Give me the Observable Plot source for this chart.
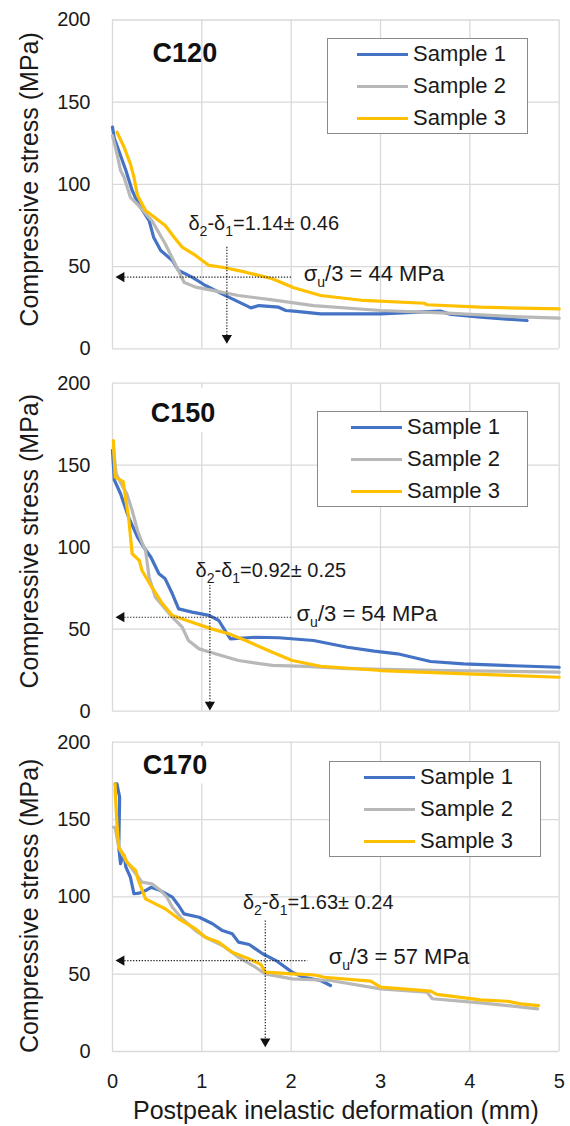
<!DOCTYPE html>
<html>
<head>
<meta charset="utf-8">
<script src="https://cdn.jsdelivr.net/npm/d3@7"></script>
<script src="https://cdn.jsdelivr.net/npm/@observablehq/plot@0.6"></script>
<style>
  body { margin: 0; background: #fff; }
  #chart { position: relative; width: 570px; height: 1126px; font-family: "Liberation Sans", Arial, sans-serif; color: #1a1a1a; }
  #chart > svg { position: absolute; left: 0; display: block; }
  .legend { position: absolute; border: 1.5px solid #8a8a8a; background: #fff; box-sizing: border-box; }
  .legend .row { position: absolute; left: 0; height: 28px; display: flex; align-items: center; font-size: 22px; white-space: nowrap; }
  .legend .sw { display: inline-block; width: 51px; height: 3px; margin-right: 5px; }
</style>
</head>
<body>
<div id="chart"></div>
<script>
// ---------------- data ----------------
const sampleNames = ["Sample 1", "Sample 2", "Sample 3"];
const sampleColors = ["#4472c4", "#b8b8b8", "#ffc000"];
const xTicks = [0, 1, 2, 3, 4, 5];
const yTicks = [0, 50, 100, 150, 200];
const specimenNames = ["C120", "C150", "C170"];

// C120: [deformation mm, stress MPa]
const c120S1 = [[0,134.8],[0.02,128],[0.07,120.6],[0.15,108.5],[0.22,96.3],[0.29,88.2],[0.41,78],[0.46,67.9],[0.54,59.8],[0.67,53.7],[0.74,47.6],[0.89,43.6],[1.04,38.5],[1.30,31.4],[1.55,24.9],[1.64,26.3],[1.86,25.3],[1.94,23.3],[2.03,22.9],[2.33,21.3],[3.0,21.3],[3.67,22.9],[3.79,20.9],[4.12,19.2],[4.64,17.2]];
const c120S2 = [[0,129.7],[0.05,118.6],[0.09,108.5],[0.13,104.4],[0.20,92.2],[0.29,87.2],[0.44,78],[0.59,63.9],[0.72,49.6],[0.80,40.5],[0.93,37.5],[1.12,35.5],[1.41,32.4],[1.79,29.8],[2.25,26.3],[3.0,23.3],[3.75,21.7],[4.49,19.6],[5.0,18.6]];
const c120S3 = [[0.05,131.8],[0.13,122.6],[0.20,112.5],[0.24,104.4],[0.28,93.2],[0.37,84.1],[0.59,75],[0.69,67.9],[0.78,61.8],[0.93,56.8],[1.08,50.7],[1.23,49.6],[1.49,46.6],[1.79,42.6],[2.03,37.1],[2.33,32.4],[2.81,29.4],[3.49,27.7],[3.52,26.8],[4.12,25.3],[5.0,24.3]];

// C150
const c150S1 = [[0,159],[0.02,141],[0.09,132.6],[0.18,118.3],[0.28,106.1],[0.35,100],[0.43,93.9],[0.52,83.8],[0.59,80.7],[0.67,71.6],[0.74,62.4],[0.89,60.4],[1.08,58.4],[1.19,55.3],[1.27,48.2],[1.32,44.1],[1.60,45.1],[1.86,44.8],[2.25,43.1],[2.63,39],[2.93,36.6],[3.19,35],[3.56,30.3],[3.93,28.9],[4.49,27.7],[5.0,26.8]];
const c150S2 = [[0.01,161],[0.04,145],[0.09,139.4],[0.16,132.6],[0.22,122.4],[0.28,110.2],[0.33,103],[0.37,98],[0.41,81.7],[0.48,69.5],[0.67,57.3],[0.78,51.2],[0.85,43.1],[0.97,38],[1.15,35],[1.41,30.9],[1.79,27.9],[2.16,27.3],[2.63,25.9],[3.75,24.8],[5.0,23.8]];
const c150S3 = [[0.01,165],[0.03,142.7],[0.12,140],[0.15,128.5],[0.18,118.3],[0.22,96],[0.30,91.9],[0.33,85.8],[0.44,75.6],[0.56,65.5],[0.67,58.4],[0.89,54.3],[1.11,50.2],[1.30,47.2],[1.49,43.1],[1.79,36],[2.01,30.9],[2.33,27.4],[3.0,24.8],[3.97,22.8],[5.0,20.7]];

// C170
const c170S1 = [[0.03,173],[0.05,173],[0.08,164.4],[0.07,132],[0.09,121.4],[0.11,125.6],[0.13,126.7],[0.15,119.2],[0.20,112.7],[0.24,102],[0.30,102.4],[0.37,104.1],[0.43,106.2],[0.52,104.5],[0.67,99.8],[0.74,94.4],[0.80,89],[0.97,86.8],[1.12,82.6],[1.23,78.2],[1.34,76.1],[1.41,70.7],[1.53,69.2],[1.68,63.2],[1.83,58.8],[2.01,51.3],[2.14,48],[2.33,45.9],[2.44,42.7]];
const c170S2 = [[0.01,145],[0.03,145],[0.07,132],[0.15,123.5],[0.26,114.9],[0.33,109.5],[0.44,108.4],[0.54,104.1],[0.61,99.8],[0.67,93.3],[0.78,85.8],[0.93,78.2],[1.04,73.9],[1.23,68.5],[1.41,61],[1.60,54.5],[1.71,50.2],[2.01,47],[2.44,45.9],[3.0,40.5],[3.52,38.3],[3.58,34.1],[4.12,31.5],[4.76,27.6]];
const c170S3 = [[0.03,173],[0.03,168.8],[0.05,147.2],[0.07,132],[0.13,126.7],[0.16,122.4],[0.26,117],[0.29,110.6],[0.37,98.7],[0.48,95.5],[0.59,92.3],[0.74,85.8],[0.93,79.3],[1.04,73.9],[1.19,70.7],[1.34,64.2],[1.53,59.9],[1.66,56.3],[1.71,51.3],[2.01,50.2],[2.25,49.6],[2.37,48],[2.89,45.5],[3.0,41.6],[3.56,39],[3.63,36.9],[4.12,33.4],[4.42,32.5],[4.57,30.8],[4.77,29.7]];

// annotations
const sigmaThird = [44, 54, 57];          // label values (MPa)
const sigmaArrowY = [43.6, 57.3, 58.8];   // level of drawn horizontal arrow
const sigmaArrowX2 = [2.0, 2.0, 2.18];    // right end of horizontal arrow
const deltaMean = ["1.14", "0.92", "1.63"];
const deltaSD = ["0.46", "0.25", "0.24"];
const deltaArrowX = [1.28, 1.09, 1.71];
const deltaArrowTop = [62, 77, 84.7];

const seriesBySpecimen = [[c120S1, c120S2, c120S3], [c150S1, c150S2, c150S3], [c170S1, c170S2, c170S3]];

// ---------------- layout ----------------
const layout = [
  { top: 0,   height: 362, mt: 19.5, mb: 13.7, title: [0.81, 179.6], delta: [0.85, 76],  sigma: [2.14, 45.8], headX: 0.1, headY: 6.6, ylabDy: -5,
    legend: { left: 327, top: 38, width: 201, pad: 29 }, mask: null },
  { top: 362, height: 360, mt: 20.7, mb: 11.3, title: [0.79, 181.5], delta: [0.93, 85.8], sigma: [2.06, 59.2], headX: 0.1, headY: 4, ylabDy: -6,
    legend: { left: 317, top: 411, width: 211, pad: 33 }, mask: [0.35, 1.3, 170, 197] },
  { top: 722, height: 404, mt: 19.7, mb: 75,   title: [0.70, 185],   delta: [1.46, 96.5], sigma: [2.42, 61],   headX: 0.1, headY: 6.5, ylabDy: 9,
    legend: { left: 329, top: 761, width: 212, pad: 34 }, mask: [0.3, 1.3, 173, 197] }
];

const FONT = "Liberation Sans, Arial, sans-serif";
const chart = document.getElementById("chart");

function subscriptify(svg, size) {
  svg.querySelectorAll("text").forEach(t => {
    const s = t.textContent;
    if (!s.includes("_")) return;
    const parts = s.split(/_(.)/);
    let html = "";
    const shift = Math.round(size * 0.3);
    for (let i = 0; i < parts.length; i++) {
      if (i % 2 === 0) {
        if (parts[i]) html += `<tspan dy="${i === 0 ? 0 : -shift}">${parts[i]}</tspan>`;
      } else {
        html += `<tspan dy="${shift}" font-size="${Math.round(size * 0.68)}px">${parts[i]}</tspan>`;
      }
    }
    t.innerHTML = html;
  });
}

specimenNames.forEach((name, k) => {
  const L = layout[k];
  const rows = seriesBySpecimen[k].flatMap((s, i) => s.map(([x, y]) => ({ x, y, sample: sampleNames[i] })));
  const last = k === specimenNames.length - 1;
  const dotted = { stroke: "#222", strokeWidth: 1.2, strokeDasharray: "1.3,1.6" };
  const marks = [
    Plot.gridX(xTicks, { stroke: "#d9d9d9", strokeOpacity: 1, strokeWidth: 1.3 }),
    Plot.gridY(yTicks, { stroke: "#d9d9d9", strokeOpacity: 1, strokeWidth: 1.3 }),
    L.mask ? Plot.rect([L.mask], { x1: d => d[0], x2: d => d[1], y1: d => d[2], y2: d => d[3], fill: "white" }) : null,
    Plot.axisY(yTicks, { tickSize: 0, tickPadding: 22, label: null, fontSize: 20 }),
    last ? Plot.axisX(xTicks, { tickSize: 0, tickPadding: 22, label: null, fontSize: 20 }) : null,
    Plot.text(["Compressive stress (MPa)"], { frameAnchor: "left", textAnchor: "middle", lineAnchor: "middle", rotate: -90, dx: -83, dy: L.ylabDy, fontSize: 25 }),
    last ? Plot.text(["Postpeak inelastic deformation (mm)"], { frameAnchor: "bottom", textAnchor: "middle", lineAnchor: "middle", dy: 59, fontSize: 25 }) : null,
    Plot.line(rows, { x: "x", y: "y", z: "sample", stroke: "sample", strokeWidth: 3.2, strokeLinejoin: "round", strokeLinecap: "round" }),
    // sigma_u/3 horizontal arrow
    Plot.link([0], { x1: () => L.headX, x2: () => sigmaArrowX2[k], y1: () => sigmaArrowY[k], y2: () => sigmaArrowY[k], ...dotted }),
    Plot.dot([0], { x: () => L.headX, y: () => sigmaArrowY[k], symbol: "triangle", r: 3.8, rotate: -90, fill: "#111", stroke: null }),
    // delta vertical arrow
    Plot.link([0], { x1: () => deltaArrowX[k], x2: () => deltaArrowX[k], y1: () => deltaArrowTop[k], y2: () => L.headY, ...dotted }),
    Plot.dot([0], { x: () => deltaArrowX[k], y: () => L.headY, symbol: "triangle", r: 3.8, rotate: 180, fill: "#111", stroke: null }),
    // labels
    Plot.text([`δ_2-δ_1=${deltaMean[k]}± ${deltaSD[k]}`], { x: () => L.delta[0], y: () => L.delta[1], textAnchor: "start", fontSize: 20, fill: "#1a1a1a" }),
    Plot.text([`σ_u/3 = ${sigmaThird[k]} MPa`], { x: () => L.sigma[0], y: () => L.sigma[1], textAnchor: "start", fontSize: 22, fill: "#1a1a1a" }),
    Plot.text([name], { x: () => L.title[0], y: () => L.title[1], fontSize: 27, fontWeight: "bold", fill: "#111" })
  ];
  const svg = Plot.plot({
    width: 570,
    height: L.height,
    marginLeft: 112,
    marginRight: 11.3,
    marginTop: L.mt,
    marginBottom: L.mb,
    style: { fontFamily: FONT, fontSize: "20px", color: "#1a1a1a", background: "transparent", overflow: "visible" },
    x: { domain: [0, 5], axis: last ? undefined : null },
    y: { domain: [0, 200] },
    color: { domain: sampleNames, range: sampleColors },
    marks
  });
  svg.style.top = L.top + "px";
  subscriptify(svg, 20);
  chart.appendChild(svg);

  // legend
  const lg = document.createElement("div");
  lg.className = "legend";
  lg.style.left = L.legend.left + "px";
  lg.style.top = L.legend.top + "px";
  lg.style.width = L.legend.width + "px";
  lg.style.height = "96px";
  sampleNames.forEach((s, i) => {
    const r = document.createElement("div");
    r.className = "row";
    r.style.top = (1 + i * 32) + "px";
    r.style.left = L.legend.pad + "px";
    r.innerHTML = `<span class="sw" style="background:${sampleColors[i]}"></span><span>${s}</span>`;
    lg.appendChild(r);
  });
  chart.appendChild(lg);
});
</script>
</body>
</html>
